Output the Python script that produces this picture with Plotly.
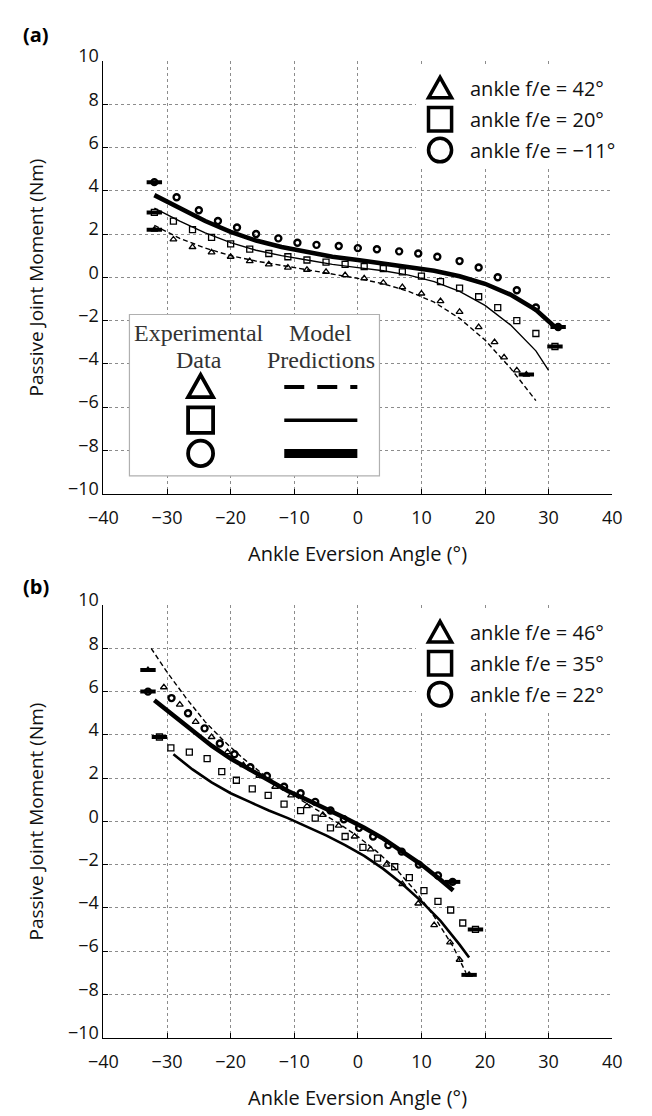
import plotly.graph_objects as go

# ---------------- panel (a): ankle f/e = 42, 20, -11 deg ----------------
a_tri_x = [-32, -29, -26, -23, -20, -17, -14, -11, -8, -5, -2, 1, 4, 7, 10, 13, 16, 19, 21.5, 23, 25, 26.5]
a_tri_y = [2.2, 1.75, 1.4, 1.15, 0.95, 0.75, 0.6, 0.45, 0.35, 0.25, 0.1, -0.05, -0.25, -0.45, -0.75, -1.1, -1.6, -2.3, -3.0, -3.7, -4.3, -4.5]
a_tri_mx = [-32, -28, -24, -20, -16, -12, -8, -4, 0, 4, 8, 12, 16, 20, 24, 28]
a_tri_my = [2.4, 1.8, 1.35, 1.0, 0.75, 0.55, 0.35, 0.15, -0.05, -0.3, -0.65, -1.15, -1.9, -2.9, -4.2, -5.7]

a_sq_x = [-32, -29, -26, -23, -20, -17, -14, -11, -8, -5, -2, 1, 4, 7, 10, 13, 16, 19, 22, 25, 28, 31]
a_sq_y = [3.0, 2.6, 2.2, 1.85, 1.55, 1.3, 1.1, 0.95, 0.8, 0.7, 0.6, 0.5, 0.4, 0.25, 0.05, -0.2, -0.5, -0.9, -1.4, -2.0, -2.6, -3.2]
a_sq_mx = [-32, -28, -24, -20, -16, -12, -8, -4, 0, 4, 8, 12, 16, 20, 24, 28, 30]
a_sq_my = [3.2, 2.6, 2.05, 1.6, 1.25, 1.0, 0.8, 0.6, 0.45, 0.3, 0.1, -0.2, -0.65, -1.3, -2.2, -3.4, -4.3]

a_ci_x = [-32, -28.5, -25, -22, -19, -16, -12.5, -9.5, -6.5, -3, 0, 3, 6.5, 9.5, 12.5, 16, 19, 22, 25, 28, 31.5]
a_ci_y = [4.4, 3.7, 3.1, 2.6, 2.3, 2.0, 1.8, 1.6, 1.5, 1.45, 1.35, 1.3, 1.2, 1.1, 0.95, 0.75, 0.45, 0.0, -0.6, -1.4, -2.3]
a_ci_mx = [-32, -28, -24, -20, -16, -12, -8, -4, 0, 4, 8, 12, 16, 20, 24, 28, 31]
a_ci_my = [3.8, 3.2, 2.6, 2.1, 1.7, 1.4, 1.15, 0.95, 0.8, 0.65, 0.5, 0.3, 0.05, -0.3, -0.8, -1.5, -2.3]

a_labels = ["ankle f/e = 42°", "ankle f/e = 20°", "ankle f/e = \u221211°"]

# ---------------- panel (b): ankle f/e = 46, 35, 22 deg ----------------
b_tri_x = [-33, -30.5, -28, -25.5, -23, -20.5, -18, -15.5, -13, -10.5, -8, -5.5, -3, -0.5, 2, 4.5, 7, 9.5, 12, 14.5, 16, 17.5]
b_tri_y = [7.0, 6.2, 5.4, 4.6, 3.9, 3.2, 2.6, 2.1, 1.6, 1.2, 0.7, 0.3, -0.2, -0.7, -1.3, -2.0, -2.9, -3.8, -4.8, -5.6, -6.4, -7.1]
b_tri_mx = [-32.5, -30, -27, -24, -21, -18, -15, -12, -9, -6, -3, 0, 3, 6, 9, 12, 15, 17]
b_tri_my = [8.0, 6.9, 5.7, 4.6, 3.7, 2.9, 2.2, 1.6, 1.0, 0.45, -0.1, -0.7, -1.4, -2.2, -3.2, -4.4, -5.8, -7.0]

b_sq_x = [-31.2, -29.4, -26.5, -23.7, -21.4, -19.1, -16.6, -14.1, -11.6, -9, -6.7, -4.3, -2, 0.8, 3.1, 5.8, 8.1, 10.4, 12.6, 14.6, 16.5, 18.5]
b_sq_y = [3.9, 3.4, 3.2, 2.9, 2.3, 1.9, 1.5, 1.2, 0.8, 0.5, 0.15, -0.3, -0.7, -1.2, -1.7, -2.1, -2.6, -3.2, -3.7, -4.1, -4.7, -5.0]
b_sq_mx = [-29, -26, -23, -20, -17, -14, -11, -8, -5, -2, 1, 4, 7, 10, 13, 16, 17.5]
b_sq_my = [3.1, 2.4, 1.8, 1.3, 0.9, 0.5, 0.15, -0.25, -0.65, -1.1, -1.6, -2.2, -2.9, -3.7, -4.6, -5.7, -6.3]

b_ci_x = [-33, -29.3, -26.7, -24.1, -21.7, -19.4, -16.9, -14.3, -11.6, -9, -6.7, -4.3, -2.2, 0.2, 2.4, 4.8, 6.9, 9.6, 12.6, 14.9]
b_ci_y = [6.0, 5.7, 5.0, 4.3, 3.6, 3.1, 2.5, 2.1, 1.6, 1.3, 0.9, 0.5, 0.1, -0.3, -0.7, -1.1, -1.4, -2.0, -2.5, -2.8]
b_ci_mx = [-32, -29, -26, -23, -20, -17, -14, -11, -8, -5, -2, 1, 4, 7, 10, 13, 15]
b_ci_my = [5.6, 4.9, 4.2, 3.5, 2.9, 2.4, 1.9, 1.4, 1.0, 0.6, 0.15, -0.3, -0.8, -1.4, -2.0, -2.7, -3.2]

b_labels = ["ankle f/e = 46°", "ankle f/e = 35°", "ankle f/e = 22°"]

x_ticks = [-40, -30, -20, -10, 0, 10, 20, 30, 40]
y_ticks = [-10, -8, -6, -4, -2, 0, 2, 4, 6, 8, 10]

W, H = 652, 1116
SANS = "Open Sans, Noto Sans, sans-serif"
SERIF = "Liberation Serif, Times New Roman, serif"

# pixel frame of the two panels (left, right, top, bottom)
X_L, X_R = 92, 621
PANELS = {"a": (44, 486), "b": (600, 1042)}


def px(x):
    return x / W


def py(y):
    return 1 - y / H


fig = go.Figure()

series = {
    "a": [(a_tri_x, a_tri_y, a_tri_mx, a_tri_my, "triangle-up-open", "5px,3px", 1.4, 1.3),
          (a_sq_x, a_sq_y, a_sq_mx, a_sq_my, "square-open", "solid", 1.4, 1.3),
          (a_ci_x, a_ci_y, a_ci_mx, a_ci_my, "circle-open", "solid", 4.5, 2.4)],
    "b": [(b_tri_x, b_tri_y, b_tri_mx, b_tri_my, "triangle-up-open", "5px,3px", 1.4, 1.3),
          (b_sq_x, b_sq_y, b_sq_mx, b_sq_my, "square-open", "solid", 2.6, 1.3),
          (b_ci_x, b_ci_y, b_ci_mx, b_ci_my, "circle-open", "solid", 4.5, 2.4)],
}
axes = {"a": ("x", "y"), "b": ("x2", "y2")}

for panel, rows in series.items():
    xa, ya = axes[panel]
    for ex, ey, mx, my, sym, dash, lw, mlw in rows:
        # model prediction curve
        fig.add_trace(go.Scatter(x=mx, y=my, mode="lines", xaxis=xa, yaxis=ya,
                                 line=dict(color="black", width=lw, dash=dash),
                                 showlegend=False, hoverinfo="skip"))
        # experimental data
        fig.add_trace(go.Scatter(x=ex, y=ey, mode="markers", xaxis=xa, yaxis=ya,
                                 marker=dict(symbol=sym, size=6, color="black",
                                             line=dict(color="black", width=mlw)),
                                 showlegend=False))
        # end-of-range error bars
        fig.add_trace(go.Scatter(x=[ex[0], ex[-1]], y=[ey[0], ey[-1]], mode="markers",
                                 xaxis=xa, yaxis=ya,
                                 marker=dict(symbol="line-ew", size=11,
                                             line=dict(color="black", width=4)),
                                 showlegend=False, hoverinfo="skip"))

axis_common = dict(showgrid=True, gridcolor="#8c8c8c", griddash="dot",
                   gridwidth=1, zeroline=False, showline=True, linecolor="black",
                   linewidth=1, ticks="inside", ticklen=5, tickcolor="black",
                   tickfont=dict(family=SANS, size=18, color="#111"))
xdom = [X_L / W, X_R / W]
layout = dict(width=W, height=H, margin=dict(l=0, r=0, t=0, b=0),
              paper_bgcolor="white", plot_bgcolor="white", showlegend=False)
for i, (panel, (top, bot)) in enumerate(PANELS.items()):
    sfx = "" if i == 0 else "2"
    layout["xaxis" + sfx] = dict(axis_common, domain=xdom, range=[-40, 40], tickvals=x_ticks,
                                 anchor="y" + sfx, ticklabelstandoff=8)
    layout["yaxis" + sfx] = dict(axis_common, domain=[py(bot), py(top)], range=[-10, 10],
                                 tickvals=y_ticks, anchor="x" + sfx, ticklabelshift=-5)
fig.update_layout(**layout)

shapes = []
annotations = []

# panel letters and axis titles
for (panel, (top, bot)), letter_y in zip(PANELS.items(), (17, 581)):
    annotations.append(dict(text=f"<b>({panel})</b>", x=px(6), y=py(letter_y), xref="paper", yref="paper",
                            xanchor="left", yanchor="middle", showarrow=False,
                            font=dict(family=SANS, size=20, color="black")))
    annotations.append(dict(text="Ankle Eversion Angle (°)", x=px((X_L + X_R) / 2), y=py(bot + 61),
                            xref="paper", yref="paper", xanchor="center", yanchor="middle",
                            showarrow=False, font=dict(family=SANS, size=20, color="#111")))
    annotations.append(dict(text="Passive Joint Moment (Nm)", x=px(22), y=py((top + bot) / 2),
                            xref="paper", yref="paper", xanchor="center", yanchor="middle",
                            textangle=-90, showarrow=False,
                            font=dict(family=SANS, size=19, color="#111")))


def marker_shape(kind, cx, cy, s, lw):
    h = s / 2
    if kind == "tri":
        path = (f"M {px(cx - h)} {py(cy + h * 0.8)} L {px(cx + h)} {py(cy + h * 0.8)} "
                f"L {px(cx)} {py(cy - h * 0.95)} Z")
        return dict(type="path", path=path, xref="paper", yref="paper",
                    line=dict(color="black", width=lw), fillcolor="rgba(0,0,0,0)")
    if kind == "sq":
        return dict(type="rect", x0=px(cx - h), x1=px(cx + h), y0=py(cy + h), y1=py(cy - h),
                    xref="paper", yref="paper", line=dict(color="black", width=lw))
    return dict(type="circle", x0=px(cx - h), x1=px(cx + h), y0=py(cy + h), y1=py(cy - h),
                xref="paper", yref="paper", line=dict(color="black", width=lw))


# key in the upper right of each panel (white backing hides the grid)
for labels, (top, bot) in zip((a_labels, b_labels), PANELS.values()):
    shapes.append(dict(type="rect", x0=px(417), x1=px(X_R + 2), y0=py(top + 108), y1=py(top + 3),
                       xref="paper", yref="paper", line=dict(width=0), fillcolor="white",
                       layer="above"))
    for i, (kind, lab) in enumerate(zip(("tri", "sq", "ci"), labels)):
        cy = top + 28 + i * 31.5
        shapes.append(marker_shape(kind, 442, cy, 24, 3.5))
        annotations.append(dict(text=lab, x=px(471), y=py(cy), xref="paper", yref="paper",
                                xanchor="left", yanchor="middle", showarrow=False,
                                font=dict(family=SANS, size=20, color="#111")))

# boxed key for panel (a): experimental data vs model predictions
shapes.append(dict(type="rect", x0=px(119), x1=px(379), y0=py(468), y1=py(303),
                   xref="paper", yref="paper", line=dict(color="#b0b0b0", width=1.2),
                   fillcolor="white", layer="above"))
for txt, cx, cy in (("Experimental", 191, 322), ("Data", 191, 350),
                    ("Model", 318, 322), ("Predictions", 318, 350)):
    annotations.append(dict(text=txt, x=px(cx), y=py(cy), xref="paper", yref="paper",
                            xanchor="center", yanchor="middle", showarrow=False,
                            font=dict(family=SERIF, size=24, color="#333")))
for i, (kind, dash, lw) in enumerate((("tri", "20px,13px", 4), ("sq", "solid", 3.5), ("ci", "solid", 9))):
    cy = 377 + i * 34
    shapes.append(marker_shape(kind, 193, cy, 26, 3.8))
    shapes.append(dict(type="line", x0=px(280), x1=px(356), y0=py(cy), y1=py(cy),
                       xref="paper", yref="paper", line=dict(color="black", width=lw, dash=dash)))

fig.update_layout(shapes=shapes, annotations=annotations)
fig.write_html("out.html")
